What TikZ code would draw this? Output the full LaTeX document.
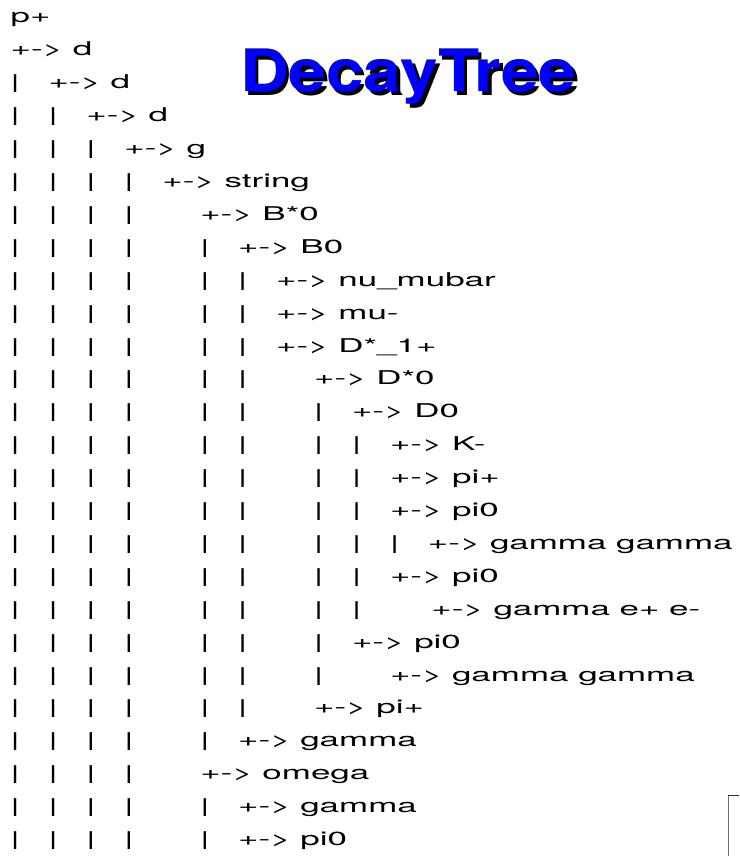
\documentclass[tikz,border=0pt]{standalone}
\usepackage{fontspec}
\newfontfamily\treefont[FakeStretch=1.84]{TeX Gyre Heros}
\newfontfamily\titlefont[FakeStretch=1.155]{TeX Gyre Heros}
\definecolor{titleblue}{RGB}{0,0,255}
\definecolor{paveedge}{RGB}{110,110,110}
% heading text with a black drop shadow behind it
\newcommand\shadowedtitle[1]{%
  \makebox[0pt][l]{\hspace{3.5pt}\raisebox{-4pt}{\color{black}#1}}%
  \color{titleblue}#1}
\begin{document}
\begin{tikzpicture}[x=1pt,y=-1pt,
  treetext/.style={anchor=base west,inner sep=0pt,outer sep=0pt,
    font=\treefont\fontsize{19}{19}\selectfont},
  titletext/.style={anchor=base west,inner sep=0pt,outer sep=0pt,
    font=\titlefont\bfseries\fontsize{58.5}{60}\selectfont},
]
\useasboundingbox (0,0) rectangle (739,856);

% column origin and baseline of each row
\def\colx#1{10.6+37.94*(#1)}
\def\rowy#1{23+32.9*((#1)-1)}

% heading
\node[titletext] (title) at (240,92) {\shadowedtitle{DecayTree}};

% the two first rows
\node[treetext] (r1) at ({\colx{0}},{\rowy{1}}) {p+};
\node[treetext] (r2) at ({\colx{0}},{\rowy{2}}) {+-> d};

% remaining rows: row / column of the entry / continuation bars / entry
\foreach \r/\c/\bars/\txt in {
  3/1/{0}/{d},
  4/2/{0,1}/{d},
  5/3/{0,1,2}/{g},
  6/4/{0,1,2,3}/{string},
  7/5/{0,1,2,3}/{B*0},
  8/6/{0,1,2,3,5}/{B0},
  9/7/{0,1,2,3,5,6}/{nu\_mubar},
  10/7/{0,1,2,3,5,6}/{mu-},
  11/7/{0,1,2,3,5,6}/{D*\_1+},
  12/8/{0,1,2,3,5,6}/{D*0},
  13/9/{0,1,2,3,5,6,8}/{D0},
  14/10/{0,1,2,3,5,6,8,9}/{K-},
  15/10/{0,1,2,3,5,6,8,9}/{pi+},
  16/10/{0,1,2,3,5,6,8,9}/{pi0},
  17/11/{0,1,2,3,5,6,8,9,10}/{gamma gamma},
  18/10/{0,1,2,3,5,6,8,9}/{pi0},
  19/11.09/{0,1,2,3,5,6,8,9}/{gamma e+ e-},
  20/9/{0,1,2,3,5,6,8}/{pi0},
  21/10/{0,1,2,3,5,6,8}/{gamma gamma},
  22/8/{0,1,2,3,5,6}/{pi+},
  23/6/{0,1,2,3,5}/{gamma},
  24/5/{0,1,2,3}/{omega},
  25/6/{0,1,2,3,5}/{gamma},
  26/6/{0,1,2,3,5}/{pi0}}{
  \foreach \b in \bars {
    \node[treetext] (b\r-\b) at ({\colx{\b}},{\rowy{\r}}) {|};
  }
  \node[treetext] (r\r) at ({\colx{\c}},{\rowy{\r}}) {+-> \txt};
}

% corner of the frame at the lower right
\draw[paveedge,line width=1.3pt] (728.7,856) -- (728.7,795.4);
\draw[black!80,line width=0.9pt] (728.2,795.4) -- (739,795.4);
\end{tikzpicture}
\end{document}
